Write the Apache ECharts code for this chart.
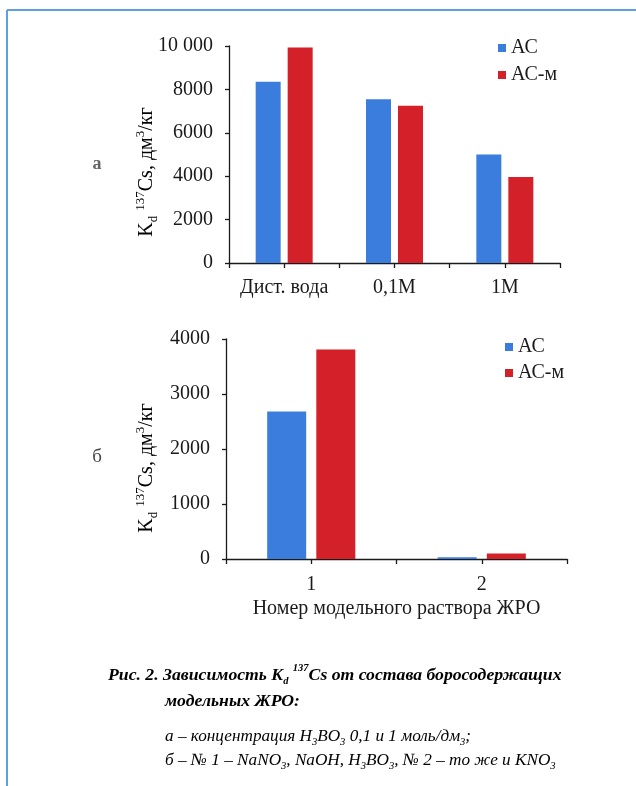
<!DOCTYPE html>
<html><head><meta charset="utf-8">
<script src="https://cdn.jsdelivr.net/npm/echarts@6/dist/echarts.min.js"></script>
<style>html,body{margin:0;padding:0;background:#fff}#c{width:636px;height:786px}</style>
</head><body><div id="c"></div>
<script>
const seriesNames = ['АС', 'АС-м'];
const catsA = ['Дист. вода', '0,1М', '1М'];
const acA = [8350, 7550, 5000];
const acmA = [9930, 7250, 3960];
const catsB = ['1', '2'];
const acB = [2680, 30];
const acmB = [3810, 100];
const yTicksA = { min: 0, max: 10000, interval: 2000 };
const yTicksB = { min: 0, max: 4000, interval: 1000 };
const xNameB = 'Номер модельного раствора ЖРО';

const BLUE = '#3b7ddd', RED = '#d42028', INK = '#1a1a1a';
const SERIF = 'Liberation Serif';

const chart = echarts.init(document.getElementById('c'), null, { renderer: 'canvas' });

const axisLine = { show: true, lineStyle: { color: INK, width: 1.3 } };
const labelStyle = { fontFamily: SERIF, fontSize: 20, color: INK };
const yNameRich = {
  t: { fontFamily: SERIF, fontSize: 20, color: INK, lineHeight: 26 },
  sub: { fontFamily: SERIF, fontSize: 13, color: INK, verticalAlign: 'bottom', lineHeight: 13 },
  sup: { fontFamily: SERIF, fontSize: 13, color: INK, verticalAlign: 'top', lineHeight: 13 }
};
const yNameText = '{t|K}{sub|d}{t| }{sup|137}{t|Cs, дм}{sup|3}{t|/кг}';

const CAP = '#3a3a46';
const capRich = {
  b: { fontFamily: SERIF, fontSize: 17.7, fontStyle: 'italic', fontWeight: 'bold', color: CAP, lineHeight: 24 },
  bs: { fontFamily: SERIF, fontSize: 10.5, fontStyle: 'italic', fontWeight: 'bold', color: CAP, verticalAlign: 'bottom', lineHeight: 11 },
  bp: { fontFamily: SERIF, fontSize: 10.5, fontStyle: 'italic', fontWeight: 'bold', color: CAP, verticalAlign: 'top', lineHeight: 11 },
  i: { fontFamily: SERIF, fontSize: 17.2, fontStyle: 'italic', color: CAP, lineHeight: 24 },
  is: { fontFamily: SERIF, fontSize: 10.5, fontStyle: 'italic', color: CAP, verticalAlign: 'bottom', lineHeight: 11 }
};

function capText(x, y, text) {
  return { type: 'text', x: x, y: y, style: { text: text, rich: capRich, align: 'left', verticalAlign: 'middle' } };
}

// tick-only axis: a tick at every category boundary and every category centre
function tickAxis(gridIndex, nCats) {
  return { type: 'value', gridIndex: gridIndex, min: 0, max: nCats * 2, interval: 1, position: 'bottom',
    axisLine: { show: false, onZero: false }, splitLine: { show: false },
    axisTick: { show: true, length: 5, lineStyle: { color: INK, width: 1.3 } },
    axisLabel: { show: false }, axisPointer: { show: false } };
}

const legendText = { fontFamily: SERIF, fontSize: 20, color: INK, lineHeight: 20 };

const option = {
  animation: false,
  backgroundColor: '#ffffff',
  grid: [
    { left: 229, width: 331, top: 46, height: 217 },
    { left: 226, width: 341, top: 339, height: 220 }
  ],
  legend: [
    { data: seriesNames, orient: 'vertical', left: 493, top: 33, itemWidth: 8, itemHeight: 8, itemGap: 7,
      icon: 'rect', textStyle: legendText },
    { data: seriesNames, orient: 'vertical', left: 500, top: 332, itemWidth: 8, itemHeight: 8, itemGap: 6,
      icon: 'rect', textStyle: legendText }
  ],
  xAxis: [
    { type: 'category', gridIndex: 0, data: catsA, axisLine: axisLine, axisTick: { show: false },
      axisLabel: Object.assign({ margin: 15, interval: 0 }, labelStyle) },
    tickAxis(0, catsA.length),
    { type: 'category', gridIndex: 1, data: catsB, axisLine: axisLine, axisTick: { show: false },
      axisLabel: Object.assign({ margin: 16, interval: 0 }, labelStyle),
      name: xNameB, nameLocation: 'middle', nameGap: 40,
      nameTextStyle: { fontFamily: SERIF, fontSize: 20, color: INK } },
    tickAxis(1, catsB.length)
  ],
  yAxis: [
    { type: 'value', gridIndex: 0, min: yTicksA.min, max: yTicksA.max, interval: yTicksA.interval,
      axisLine: axisLine, axisTick: { show: true, length: 4, lineStyle: { color: INK, width: 1.3 } },
      splitLine: { show: false },
      axisLabel: Object.assign({ margin: 16, formatter: v => v === 10000 ? '10 000' : String(v) }, labelStyle) },
    { type: 'value', gridIndex: 1, min: yTicksB.min, max: yTicksB.max, interval: yTicksB.interval,
      axisLine: axisLine, axisTick: { show: true, length: 4, lineStyle: { color: INK, width: 1.3 } },
      splitLine: { show: false },
      axisLabel: Object.assign({ margin: 16, formatter: v => String(v) }, labelStyle) }
  ],
  series: [
    { name: seriesNames[0], type: 'bar', xAxisIndex: 0, yAxisIndex: 0, data: acA, barWidth: 25, barGap: '28%', itemStyle: { color: BLUE } },
    { name: seriesNames[1], type: 'bar', xAxisIndex: 0, yAxisIndex: 0, data: acmA, barWidth: 25, barGap: '28%', itemStyle: { color: RED } },
    { name: seriesNames[0], type: 'bar', xAxisIndex: 2, yAxisIndex: 1, data: acB, barWidth: 39, barGap: '26%', itemStyle: { color: BLUE } },
    { name: seriesNames[1], type: 'bar', xAxisIndex: 2, yAxisIndex: 1, data: acmB, barWidth: 39, barGap: '26%', itemStyle: { color: RED } }
  ],
  graphic: [
    { type: 'line', shape: { x1: 7, y1: 10, x2: 636, y2: 10 }, style: { stroke: '#5d9fe4', lineWidth: 2 } },
    { type: 'line', shape: { x1: 7, y1: 10, x2: 7, y2: 786 }, style: { stroke: '#5d9fe4', lineWidth: 2 } },
    { type: 'text', x: 147, y: 172, rotation: Math.PI / 2, style: { text: yNameText, rich: yNameRich, align: 'center', verticalAlign: 'middle' } },
    { type: 'text', x: 147, y: 468, rotation: Math.PI / 2, style: { text: yNameText, rich: yNameRich, align: 'center', verticalAlign: 'middle' } },
    { type: 'text', x: 97, y: 164, style: { text: 'а', font: 'bold 18px "Liberation Serif"', fill: '#666', align: 'center', verticalAlign: 'middle' } },
    { type: 'text', x: 97, y: 457, style: { text: 'б', font: '19px "Liberation Serif"', fill: '#444', align: 'center', verticalAlign: 'middle' } },
    capText(108, 675, '{b|Рис. 2. Зависимость K}{bs|d}{b| }{bp|137}{b|Cs от состава боросодержащих}'),
    capText(165, 701, '{b|модельных ЖРО:}'),
    capText(165, 736, '{i|а – концентрация H}{is|3}{i|BO}{is|3}{i| 0,1 и 1 моль/дм}{is|3}{i|;}'),
    capText(165, 760, '{i|б – № 1 – NaNO}{is|3}{i|, NaOH, H}{is|3}{i|BO}{is|3}{i|, № 2 – то же и KNO}{is|3}')
  ]
};
chart.setOption(option);
</script>
</body></html>
